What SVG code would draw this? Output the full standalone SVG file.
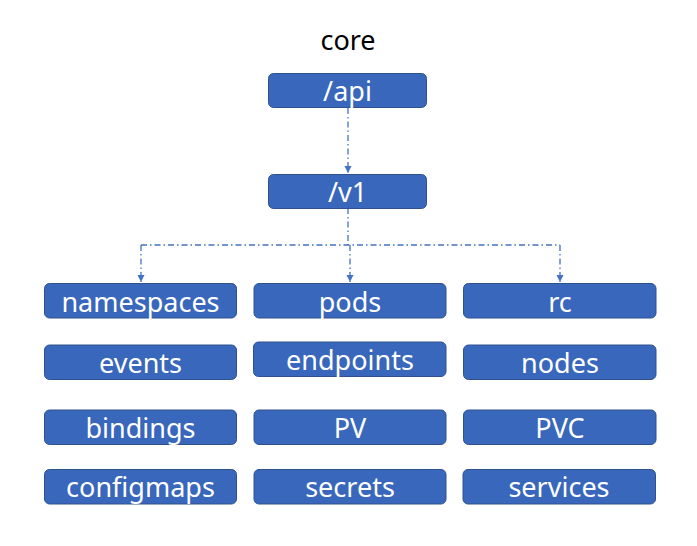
<svg xmlns="http://www.w3.org/2000/svg" width="697" height="546" viewBox="0 0 697 546">
<style>
.box{fill:#3867bb;stroke:#2f528f;stroke-width:1}
.lbl{font-family:"Noto Sans","Open Sans",sans-serif;font-size:27px;fill:#ffffff;text-anchor:middle}
.title{font-family:"Noto Sans","Open Sans",sans-serif;font-size:27px;fill:#000000;text-anchor:middle}
.con{fill:none;stroke:#4472c4;stroke-width:1.3;stroke-dasharray:6 3 1.5 3}
</style>
<defs>
<marker id="arr" markerWidth="8" markerHeight="8" refX="7" refY="4" orient="auto" markerUnits="userSpaceOnUse">
<path d="M0,0.5 L7,4 L0,7.5 Z" fill="#4472c4"/>
</marker>
</defs>
<text class="title" x="348" y="50">core</text>
<g id="connectors">
<path class="con" d="M348,108 V173" marker-end="url(#arr)"/>
<path class="con" d="M348,208 V245"/>
<path class="con" d="M141,245 H560"/>
<path class="con" d="M141,245 V282" marker-end="url(#arr)"/>
<path class="con" d="M350,245 V282" marker-end="url(#arr)"/>
<path class="con" d="M560,245 V282" marker-end="url(#arr)"/>
</g>
<g id="api"><rect class="box" x="268.5" y="73.5" width="158" height="34" rx="5"/><text class="lbl" x="347.5" y="101">/api</text></g>
<g id="v1"><rect class="box" x="268.5" y="174.5" width="158" height="34" rx="5"/><text class="lbl" x="347.5" y="202">/v1</text></g>
<g id="namespaces"><rect class="box" x="44.5" y="283.5" width="192" height="34.5" rx="5"/><text class="lbl" x="140.5" y="311.5">namespaces</text></g>
<g id="pods"><rect class="box" x="254" y="283.5" width="192" height="34.5" rx="5"/><text class="lbl" x="350" y="311.5">pods</text></g>
<g id="rc"><rect class="box" x="463.5" y="283.5" width="192.5" height="34.5" rx="5"/><text class="lbl" x="560" y="311.5">rc</text></g>
<g id="events"><rect class="box" x="44.5" y="345" width="192" height="34.5" rx="5"/><text class="lbl" x="140.5" y="373">events</text></g>
<g id="endpoints"><rect class="box" x="253.5" y="342" width="192.5" height="34.5" rx="5"/><text class="lbl" x="350" y="369.5">endpoints</text></g>
<g id="nodes"><rect class="box" x="463.5" y="345" width="192.5" height="34.5" rx="5"/><text class="lbl" x="560" y="373">nodes</text></g>
<g id="bindings"><rect class="box" x="44.5" y="410" width="192" height="34.5" rx="5"/><text class="lbl" x="140.5" y="437.5">bindings</text></g>
<g id="PV"><rect class="box" x="254" y="410" width="192" height="34.5" rx="5"/><text class="lbl" x="350" y="437.5">PV</text></g>
<g id="PVC"><rect class="box" x="463.5" y="410" width="192.5" height="34.5" rx="5"/><text class="lbl" x="560" y="437.5">PVC</text></g>
<g id="configmaps"><rect class="box" x="44.5" y="469.5" width="192" height="34.5" rx="5"/><text class="lbl" x="140.5" y="497">configmaps</text></g>
<g id="secrets"><rect class="box" x="254" y="469.5" width="192" height="34.5" rx="5"/><text class="lbl" x="350" y="497">secrets</text></g>
<g id="services"><rect class="box" x="463" y="469.5" width="192.5" height="34.5" rx="5"/><text class="lbl" x="559" y="497">services</text></g>
</svg>
